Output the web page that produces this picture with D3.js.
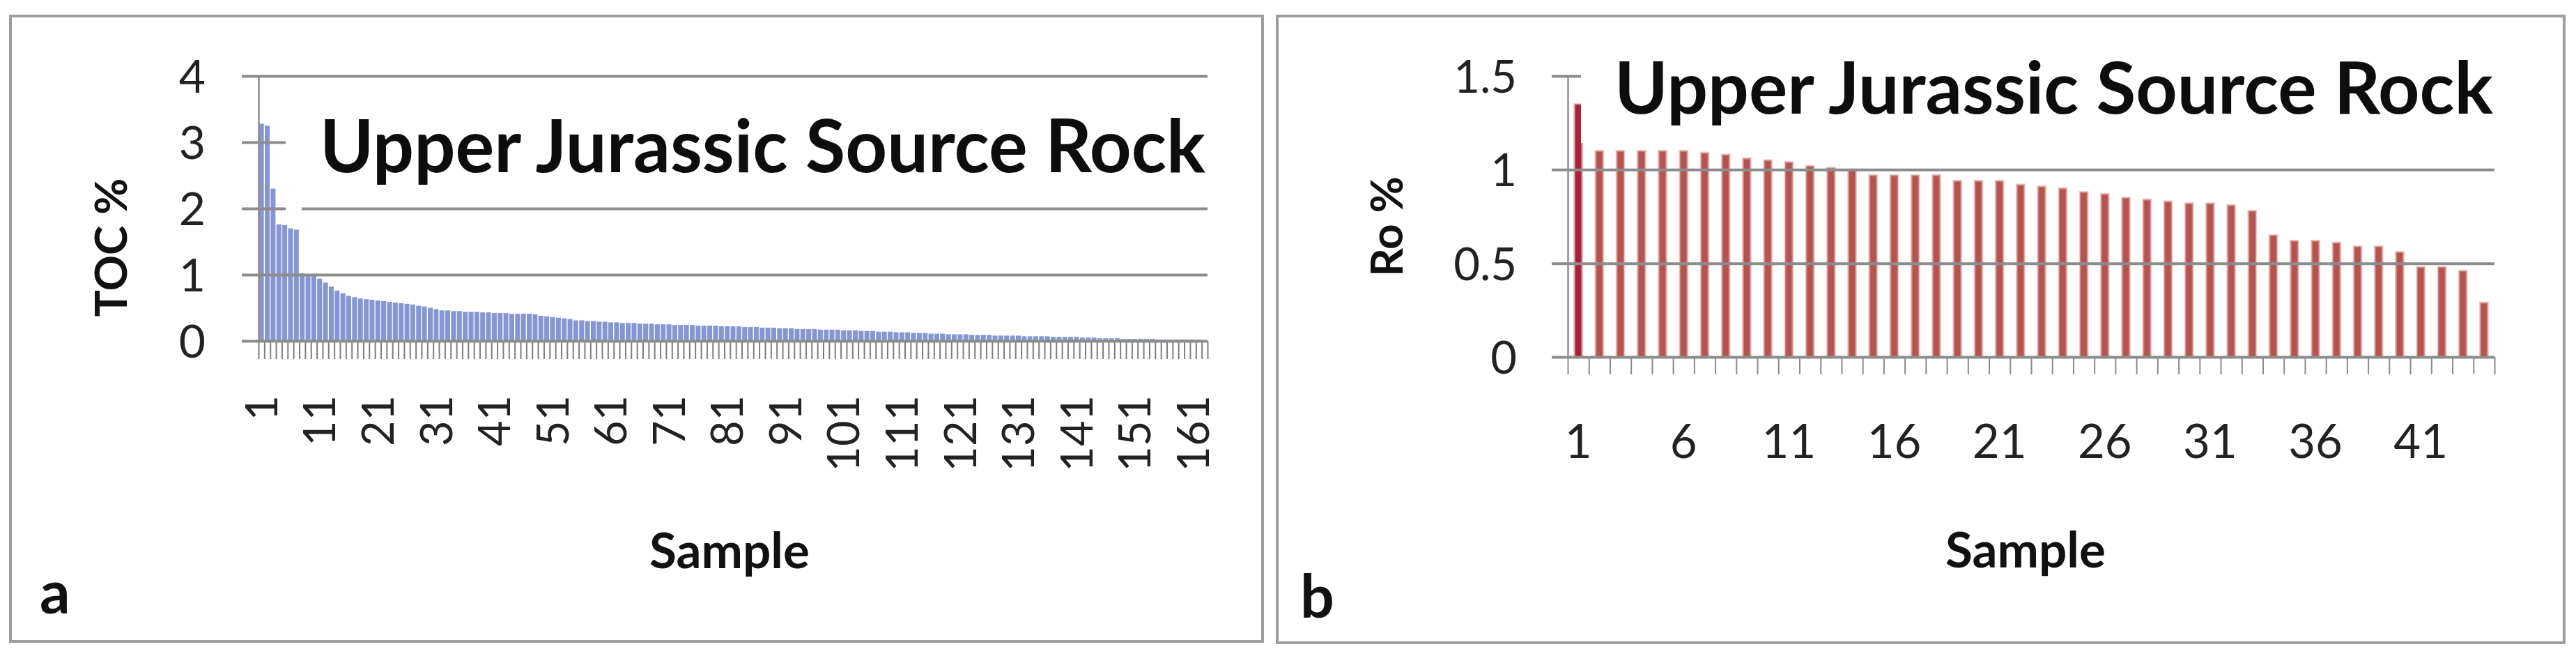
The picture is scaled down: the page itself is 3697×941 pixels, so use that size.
<!DOCTYPE html>
<html>
<head>
<meta charset="utf-8">
<script src="https://cdn.jsdelivr.net/npm/d3@7"></script>
<style>
  html, body { margin: 0; padding: 0; background: #ffffff; }
  svg { display: block; font-family: Lato, "Open Sans", "DejaVu Sans", sans-serif; }
</style>
</head>
<body>
<svg id="chart" width="3697" height="941"></svg>
<script>
// ---------------- DATA ----------------
const titleText = "Upper Jurassic Source Rock";

// Panel a : TOC % for 163 samples (sorted)
const tocValues = [
  3.28, 3.25, 2.30, 1.76, 1.75, 1.70, 1.68, 1.02, 1.00, 0.98,
  0.94, 0.88, 0.82, 0.76, 0.72, 0.68, 0.66, 0.64, 0.63, 0.62,
  0.61, 0.60, 0.59, 0.58, 0.57, 0.56, 0.55, 0.53, 0.52, 0.50,
  0.48, 0.46, 0.46, 0.45, 0.45, 0.44, 0.44, 0.44, 0.43, 0.43,
  0.42, 0.42, 0.42, 0.41, 0.41, 0.41, 0.41, 0.40, 0.38, 0.37,
  0.36, 0.35, 0.34, 0.33, 0.31, 0.31, 0.30, 0.30, 0.29, 0.29,
  0.28, 0.28, 0.27, 0.27, 0.27, 0.26, 0.26, 0.26, 0.25, 0.25,
  0.25, 0.24, 0.24, 0.24, 0.24, 0.23, 0.23, 0.23, 0.23, 0.22,
  0.22, 0.22, 0.22, 0.21, 0.21, 0.21, 0.20, 0.20, 0.20, 0.19,
  0.19, 0.19, 0.18, 0.18, 0.18, 0.18, 0.17, 0.17, 0.17, 0.17,
  0.16, 0.16, 0.16, 0.15, 0.15, 0.15, 0.14, 0.14, 0.14, 0.13,
  0.13, 0.13, 0.12, 0.12, 0.12, 0.11, 0.11, 0.11, 0.10, 0.10,
  0.10, 0.10, 0.09, 0.09, 0.09, 0.09, 0.08, 0.08, 0.08, 0.08,
  0.08, 0.07, 0.07, 0.07, 0.07, 0.07, 0.06, 0.06, 0.06, 0.06,
  0.06, 0.05, 0.05, 0.05, 0.04, 0.04, 0.04, 0.04, 0.03, 0.03,
  0.03, 0.03, 0.03, 0.03, 0.02, 0.02, 0.02, 0.02, 0.02, 0.02,
  0.02, 0.02, 0.01
];
const tocSamples = tocValues.map((v, i) => i + 1);
const tocTickLabels = [1, 11, 21, 31, 41, 51, 61, 71, 81, 91, 101, 111, 121, 131, 141, 151, 161];
const tocYTicks = [0, 1, 2, 3, 4];

// Panel b : Ro % for 44 samples
const roValues = [
  1.35, 1.10, 1.10, 1.10, 1.10, 1.10, 1.09, 1.08, 1.06, 1.05,
  1.04, 1.02, 1.01, 1.00, 0.97, 0.97, 0.97, 0.97, 0.94, 0.94,
  0.94, 0.92, 0.91, 0.90, 0.88, 0.87, 0.85, 0.84, 0.83, 0.82,
  0.82, 0.81, 0.78, 0.65, 0.62, 0.62, 0.61, 0.59, 0.59, 0.56,
  0.48, 0.48, 0.46, 0.29
];
const roSamples = roValues.map((v, i) => i + 1);
const roTickLabels = [1, 6, 11, 16, 21, 26, 31, 36, 41];
const roYTicks = [0, 0.5, 1, 1.5];

// ---------------- DRAW ----------------
const svg = d3.select("#chart");
svg.append("rect").attr("width", 3697).attr("height", 941).attr("fill", "#ffffff");

const gridColor = "#8c8c8c";
const labelColor = "#222222";
const fontFam = "Lato, 'Open Sans', sans-serif";

function fitText(sel, w) {
  const len = sel.node().getComputedTextLength();
  const fs = +sel.attr("font-size");
  if (len > 0) sel.attr("font-size", fs * w / len);
}

// Panel borders
svg.append("rect").attr("x", 15).attr("y", 23).attr("width", 1797).attr("height", 897)
  .attr("fill", "none").attr("stroke", "#9d9d9d").attr("stroke-width", 4);
svg.append("rect").attr("x", 1833).attr("y", 23).attr("width", 1847).attr("height", 899)
  .attr("fill", "none").attr("stroke", "#9d9d9d").attr("stroke-width", 4);

// ================= PANEL A =================
(function () {
  const x0 = 371, x1 = 1733, yTop = 109, yBot = 489;
  const x = d3.scaleBand().domain(tocSamples).range([x0, x1]).paddingInner(0.16).paddingOuter(0.08);
  const xl = d3.scaleLinear().domain([0, tocSamples.length]).range([x0, x1]);
  const y = d3.scaleLinear().domain([0, 4]).range([yBot, yTop]);

  // bars
  svg.append("g").selectAll("rect").data(tocValues).join("rect")
    .attr("x", (d, i) => x(tocSamples[i]))
    .attr("width", x.bandwidth())
    .attr("y", d => y(d))
    .attr("height", d => y(0) - y(d))
    .attr("fill", "#8596d3");

  // tick comb between categories
  const comb = svg.append("g").attr("transform", `translate(0,${yBot})`)
    .call(d3.axisBottom(xl).tickValues(d3.range(0, tocSamples.length + 1)).tickSize(26).tickFormat(""));
  comb.select(".domain").remove();
  comb.selectAll("line").attr("stroke", "#7d7d7d").attr("stroke-width", 2);

  // rotated category labels
  const xlab = svg.append("g").attr("transform", `translate(0,${yBot})`)
    .call(d3.axisBottom(x).tickValues(tocTickLabels).tickSize(0));
  xlab.select(".domain").remove();
  xlab.selectAll("text")
    .attr("x", 0).attr("y", 0).attr("dy", "0.36em")
    .attr("transform", "translate(0,78) rotate(-90)")
    .attr("text-anchor", "end")
    .attr("font-size", 63).attr("font-family", fontFam).attr("fill", labelColor);

  // y axis line
  const yax = svg.append("g").attr("transform", `translate(${x0},0)`)
    .call(d3.axisLeft(y).tickValues([]).tickSizeOuter(0));
  yax.select(".domain").attr("stroke", gridColor).attr("stroke-width", 2.5);

  // gridlines + ticks + labels
  const grid = svg.append("g").attr("transform", `translate(${x1},0)`)
    .call(d3.axisLeft(y).tickValues(tocYTicks).tickSize(x1 - x0 + 24).tickPadding(52).tickFormat(d => String(d)));
  grid.select(".domain").remove();
  grid.selectAll("line").attr("stroke", gridColor).attr("stroke-width", 4);
  grid.selectAll("text").attr("font-size", 66).attr("font-family", fontFam).attr("fill", labelColor).attr("dy", "0.36em");

  // title box
  svg.append("path").attr("d", "M410,132 H1745 V297 H433 V304 H410 Z").attr("fill", "#ffffff");
  const t = svg.append("text").attr("x", 459).attr("y", 247)
    .attr("font-size", 97).attr("font-weight", 700).attr("font-family", fontFam)
    .attr("fill", "#0d0d0d").text(titleText);
  fitText(t, 1271);

  // axis titles
  svg.append("text").attr("transform", "translate(182,355) rotate(-90)")
    .attr("text-anchor", "middle").attr("font-size", 64).attr("font-weight", 700)
    .attr("font-family", fontFam).attr("fill", "#111").text("TOC %");
  svg.append("text").attr("x", (x0 + x1) / 2 - 5).attr("y", 815)
    .attr("text-anchor", "middle").attr("font-size", 71).attr("font-weight", 700)
    .attr("font-family", fontFam).attr("fill", "#111").text("Sample");
  svg.append("text").attr("x", 57).attr("y", 880)
    .attr("font-size", 86).attr("font-weight", 700)
    .attr("font-family", fontFam).attr("fill", "#111").text("a");
})();

// ================= PANEL B =================
(function () {
  const x0 = 2250, x1 = 3580, yTop = 109, yBot = 512;
  const x = d3.scaleBand().domain(roSamples).range([x0, x1]).paddingInner(0.64).paddingOuter(0.32);
  const xl = d3.scaleLinear().domain([0, roSamples.length]).range([x0, x1]);
  const y = d3.scaleLinear().domain([0, 1.5]).range([yBot, yTop]);

  // bars
  svg.append("g").selectAll("rect").data(roValues).join("rect")
    .attr("x", (d, i) => x(roSamples[i]))
    .attr("width", x.bandwidth())
    .attr("y", d => y(d))
    .attr("height", d => y(0) - y(d))
    .attr("fill", (d, i) => i === 0 ? "#a3233b" : "#b3544f")
    .attr("stroke", "rgba(225,160,155,0.55)").attr("stroke-width", 3);

  // tick comb between categories
  const comb = svg.append("g").attr("transform", `translate(0,${yBot})`)
    .call(d3.axisBottom(xl).tickValues(d3.range(0, roSamples.length + 1)).tickSize(25).tickFormat(""));
  comb.select(".domain").remove();
  comb.selectAll("line").attr("stroke", "#8a8a8a").attr("stroke-width", 2);

  // category labels
  const xlab = svg.append("g").attr("transform", `translate(0,${yBot})`)
    .call(d3.axisBottom(x).tickValues(roTickLabels).tickSize(0));
  xlab.select(".domain").remove();
  xlab.selectAll("text")
    .attr("y", 145).attr("dy", 0)
    .attr("font-size", 67).attr("font-family", fontFam).attr("fill", labelColor);

  // y axis line
  const yax = svg.append("g").attr("transform", `translate(${x0},0)`)
    .call(d3.axisLeft(y).tickValues([]).tickSizeOuter(0));
  yax.select(".domain").attr("stroke", gridColor).attr("stroke-width", 2.5);

  // gridlines + ticks + labels
  const grid = svg.append("g").attr("transform", `translate(${x1},0)`)
    .call(d3.axisLeft(y).tickValues(roYTicks).tickSize(x1 - x0 + 23).tickPadding(50).tickFormat(d => String(d)));
  grid.select(".domain").remove();
  grid.selectAll("line").attr("stroke", gridColor).attr("stroke-width", 4);
  grid.selectAll("text").attr("font-size", 65).attr("font-family", fontFam).attr("fill", labelColor).attr("dy", "0.36em");

  // title box
  svg.append("rect").attr("x", 2269).attr("y", 60).attr("width", 1330).attr("height", 145).attr("fill", "#ffffff");
  const t = svg.append("text").attr("x", 2317).attr("y", 163)
    .attr("font-size", 96).attr("font-weight", 700).attr("font-family", fontFam)
    .attr("fill", "#0d0d0d").text(titleText);
  fitText(t, 1261);

  // axis titles
  svg.append("text").attr("transform", "translate(2013,325) rotate(-90)")
    .attr("text-anchor", "middle").attr("font-size", 64).attr("font-weight", 700)
    .attr("font-family", fontFam).attr("fill", "#111").text("Ro %");
  svg.append("text").attr("x", 2907).attr("y", 814)
    .attr("text-anchor", "middle").attr("font-size", 71).attr("font-weight", 700)
    .attr("font-family", fontFam).attr("fill", "#111").text("Sample");
  svg.append("text").attr("x", 1866).attr("y", 886)
    .attr("font-size", 86).attr("font-weight", 700)
    .attr("font-family", fontFam).attr("fill", "#111").text("b");
})();
</script>
</body>
</html>
